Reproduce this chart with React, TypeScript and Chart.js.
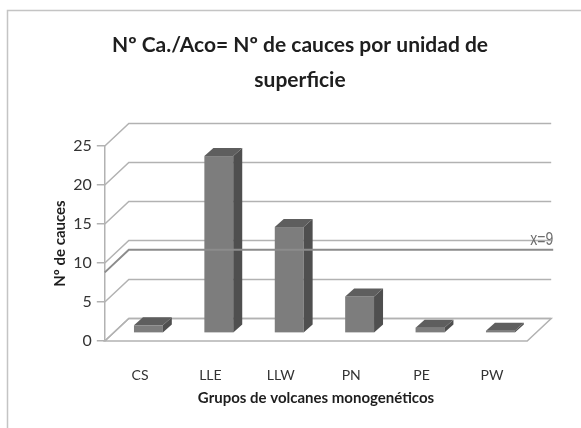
import React, { useEffect, useRef } from 'react';
import { Chart, registerables } from 'chart.js';

Chart.register(...registerables);

// ---- data ----
const categories = ['CS', 'LLE', 'LLW', 'PN', 'PE', 'PW'];
const values = [1, 22.7, 13.6, 4.7, 0.7, 0.3];
const yTickValues = [0, 5, 10, 15, 20, 25];
const refValue = 8.8;
const refLabel = 'x=9';
const titleLines = ['Nº Ca./Aco= Nº de cauces por unidad de', 'superficie'];
const xTitle = 'Grupos de volcanes monogenéticos';
const yTitle = 'Nº de cauces';

// ---- style ----
const FONT = "Lato, 'Open Sans', sans-serif";
const NARROW = "'Liberation Sans', Arial, sans-serif";
const DEPTH_DX = 24;
const DEPTH_DY = -22.5;
const BAR_PLANE = 0.35;
const BAR_DX = 9;
const BAR_DY = -8;
const GRID = '#b2b2b2';

const depthPlugin = {
  id: 'depth3d',
  beforeDraw(chart: any) {
    const ctx = chart.ctx;
    ctx.save();
    ctx.strokeStyle = '#c4c4c4';
    ctx.lineWidth = 1.5;
    ctx.strokeRect(7.5, 10.5, 800, 600);
    ctx.restore();
  },
  beforeDatasetsDraw(chart: any) {
    const ctx = chart.ctx;
    const y = chart.scales.y;
    const x = chart.scales.x;
    const left = x.left;
    const right = x.right;
    ctx.save();
    ctx.strokeStyle = GRID;
    ctx.lineWidth = 1.5;
    for (const t of yTickValues) {
      const py = y.getPixelForValue(t);
      ctx.beginPath();
      ctx.moveTo(left, py);
      ctx.lineTo(left + DEPTH_DX, py + DEPTH_DY);
      ctx.lineTo(right + DEPTH_DX, py + DEPTH_DY);
      ctx.stroke();
    }
    const y0 = y.getPixelForValue(0);
    ctx.beginPath();
    ctx.moveTo(left, y0);
    ctx.lineTo(right, y0);
    ctx.lineTo(right + DEPTH_DX, y0 + DEPTH_DY);
    ctx.lineTo(left + DEPTH_DX, y0 + DEPTH_DY);
    ctx.closePath();
    ctx.stroke();
    ctx.restore();
  },
  afterDatasetsDraw(chart: any) {
    const ctx = chart.ctx;
    const meta = chart.getDatasetMeta(0);
    const sx = BAR_PLANE * DEPTH_DX;
    const sy = BAR_PLANE * DEPTH_DY;
    ctx.save();
    for (const el of meta.data) {
      const p = el.getProps(['x', 'y', 'base', 'width'], true);
      const x0 = p.x - p.width / 2 + sx;
      const x1 = x0 + p.width;
      const yt = p.y + sy;
      const yb = p.base + sy;
      ctx.fillStyle = '#7d7d7d';
      ctx.fillRect(x0, yt, p.width, yb - yt);
      ctx.fillStyle = '#4f4f4f';
      ctx.beginPath();
      ctx.moveTo(x1, yt);
      ctx.lineTo(x1 + BAR_DX, yt + BAR_DY);
      ctx.lineTo(x1 + BAR_DX, yb + BAR_DY);
      ctx.lineTo(x1, yb);
      ctx.closePath();
      ctx.fill();
      ctx.fillStyle = '#5e5e5e';
      ctx.beginPath();
      ctx.moveTo(x0, yt);
      ctx.lineTo(x1, yt);
      ctx.lineTo(x1 + BAR_DX, yt + BAR_DY);
      ctx.lineTo(x0 + BAR_DX, yt + BAR_DY);
      ctx.closePath();
      ctx.fill();
    }
    const y = chart.scales.y;
    const x = chart.scales.x;
    const py = y.getPixelForValue(refValue);
    ctx.strokeStyle = '#8c8c8c';
    ctx.lineWidth = 2;
    ctx.beginPath();
    ctx.moveTo(x.left, py);
    ctx.lineTo(x.left + DEPTH_DX, py + DEPTH_DY);
    ctx.lineTo(x.right + DEPTH_DX + 2, py + DEPTH_DY);
    ctx.stroke();
    // narrow label (horizontally condensed)
    const lx = x.right + DEPTH_DX + 2;
    const ly = py + DEPTH_DY - 5;
    ctx.translate(lx, ly);
    ctx.scale(0.78, 1);
    ctx.fillStyle = '#6e6e6e';
    ctx.font = `18px ${NARROW}`;
    ctx.textAlign = 'right';
    ctx.textBaseline = 'alphabetic';
    ctx.fillText(refLabel, 0, 0);
    ctx.restore();
  },
};

export default function App() {
  const ref = useRef<HTMLCanvasElement>(null);
  useEffect(() => {
    document.body.style.margin = '0';
    const chart = new Chart(ref.current as HTMLCanvasElement, {
      type: 'bar',
      data: {
        labels: categories,
        datasets: [
          {
            data: values,
            backgroundColor: 'rgba(0,0,0,0)',
            borderWidth: 0,
            categoryPercentage: 1,
            barPercentage: 0.41,
            yAxisID: 'y',
          },
        ],
      },
      options: {
        responsive: false,
        animation: false,
        layout: { padding: { left: 19, right: 0, top: 0, bottom: 0 } },
        plugins: {
          legend: { display: false },
          tooltip: { enabled: false },
          title: {
            display: true,
            text: titleLines,
            color: '#1e1e1e',
            font: { family: FONT, size: 21, weight: 'bold', lineHeight: 35 / 21 },
            padding: { top: 27.5, bottom: 48.5 },
          },
        },
        scales: {
          x: {
            grid: { display: false },
            border: { display: false },
            ticks: { color: '#333333', font: { family: FONT, size: 14 }, padding: 17.6 },
            title: {
              display: true,
              text: xTitle,
              color: '#1e1e1e',
              font: { family: FONT, size: 15, weight: 'bold', lineHeight: 1.2 },
              padding: { top: 0, bottom: 21 },
            },
            afterFit: (s: any) => {
              s.height = 87;
            },
          },
          y: {
            min: 0,
            max: 25,
            ticks: { stepSize: 5, color: '#333333', font: { family: FONT, size: 16 }, padding: 5 },
            grid: { drawOnChartArea: false, tickLength: 8, color: GRID, lineWidth: 1.5 },
            border: { display: true, color: GRID, width: 1.5 },
            title: {
              display: true,
              text: yTitle,
              color: '#1e1e1e',
              font: { family: FONT, size: 15, weight: 'bold', lineHeight: 1.2 },
              padding: { top: 32, bottom: 0 },
            },
            afterFit: (s: any) => {
              s.width = 85.8;
            },
          },
          yR: {
            position: 'right',
            display: true,
            ticks: { display: false },
            grid: { display: false },
            border: { display: false },
            afterFit: (s: any) => {
              s.width = 53.8;
            },
          },
        },
      },
      plugins: [depthPlugin],
    } as any);
    return () => {
      chart.destroy();
    };
  }, []);
  return (
    <canvas
      ref={ref}
      width={581}
      height={428}
      style={{ display: 'block', width: 581, height: 428 }}
    />
  );
}
